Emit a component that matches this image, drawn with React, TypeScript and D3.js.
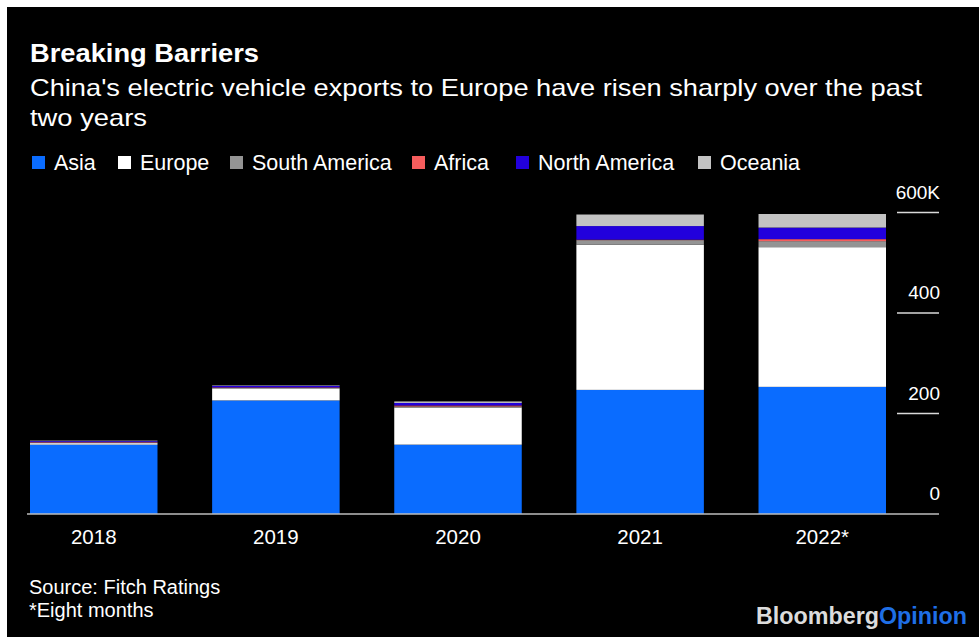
import React from 'react';
import * as d3 from 'd3';

// values in thousands of vehicles
const years = ['2018', '2019', '2020', '2021', '2022*'];
const regions = ['Asia', 'Europe', 'South America', 'Africa', 'North America', 'Oceania'];
const asia = [138, 226, 138, 247, 253];
const europe = [3, 24, 74, 289, 278];
const southAmerica = [1, 1, 2, 9, 12];
const africa = [1, 1, 2, 1, 4];
const northAmerica = [2, 3, 5, 27, 23];
const oceania = [1, 1, 3, 23, 27];
const yTicks = [0, 200, 400, 600];

const colors: Record<string, string> = {
  'Asia': '#0a6cff',
  'Europe': '#ffffff',
  'South America': '#949494',
  'Africa': '#f65d5d',
  'North America': '#2200dc',
  'Oceania': '#c3c3c3',
};

const W = 979, H = 637;
const FONT = '"Liberation Sans", Arial, Helvetica, sans-serif';

export default function App() {
  React.useEffect(() => { document.body.style.margin = '0'; }, []);

  const rows = years.map((y, i) => ({
    year: y,
    'Asia': asia[i],
    'Europe': europe[i],
    'South America': southAmerica[i],
    'Africa': africa[i],
    'North America': northAmerica[i],
    'Oceania': oceania[i],
  }));
  const series = d3.stack<any>().keys(regions)(rows);

  const x = d3.scaleBand().domain(years).range([30, 886]).paddingInner(0.3).paddingOuter(0);
  const y = d3.scaleLinear().domain([0, 600]).range([514, 212.5]);

  // legend layout (x positions of squares)
  const legendX = [32, 118, 230, 412, 516, 698];

  return (
    <svg width={W} height={H} style={{ display: 'block', fontFamily: FONT }}>
      <rect x={0} y={0} width={W} height={H} fill="#fff" />
      <rect x={7} y={7} width={W - 7} height={H - 7} fill="#000" />

      <text x={30} y={62} fill="#fff" fontWeight="bold" fontSize={25} textLength={229} lengthAdjust="spacingAndGlyphs">Breaking Barriers</text>
      <text x={30} y={96} fill="#fff" fontSize={24} textLength={892} lengthAdjust="spacingAndGlyphs">China's electric vehicle exports to Europe have risen sharply over the past</text>
      <text x={30} y={126} fill="#fff" fontSize={24} textLength={117} lengthAdjust="spacingAndGlyphs">two years</text>

      {regions.map((r, i) => (
        <g key={r} transform={`translate(${legendX[i]},0)`}>
          <rect x={0} y={156} width={13} height={13} fill={colors[r]} />
          <text x={22} y={170} fill="#fff" fontSize={21.5}>{r}</text>
        </g>
      ))}

      {series.map(s => (
        <g key={s.key} fill={colors[s.key]}>
          {s.map((d: any, i: number) => (
            <rect key={i} x={x(years[i])} width={x.bandwidth()}
              y={y(d[1])} height={Math.max(0, y(d[0]) - y(d[1]))} />
          ))}
        </g>
      ))}

      <line x1={27} x2={939} y1={y(0)} y2={y(0)} stroke="#bdbdbd" strokeWidth={1.5} />
      {yTicks.filter(t => t > 0).map(t => (
        <line key={t} x1={897} x2={939} y1={y(t)} y2={y(t)} stroke="#d9d9d9" strokeWidth={1.5} />
      ))}
      {yTicks.map(t => (
        <text key={t} x={940} y={y(t) - 14} fill="#fff" fontSize={19} textAnchor="end">
          {t === 600 ? '600K' : t}
        </text>
      ))}

      {years.map(yr => (
        <text key={yr} x={(x(yr) as number) + x.bandwidth() / 2} y={544} fill="#fff" fontSize={20.5} textAnchor="middle">{yr}</text>
      ))}

      <text x={29} y={594} fill="#fff" fontSize={20}>Source: Fitch Ratings</text>
      <text x={29} y={617} fill="#fff" fontSize={20}>*Eight months</text>

      <text x={756} y={624} fontWeight="bold" fontSize={23} textLength={211} lengthAdjust="spacingAndGlyphs">
        <tspan fill="#dcdcdc">Bloomberg</tspan><tspan fill="#1f6fe6">Opinion</tspan>
      </text>
    </svg>
  );
}
